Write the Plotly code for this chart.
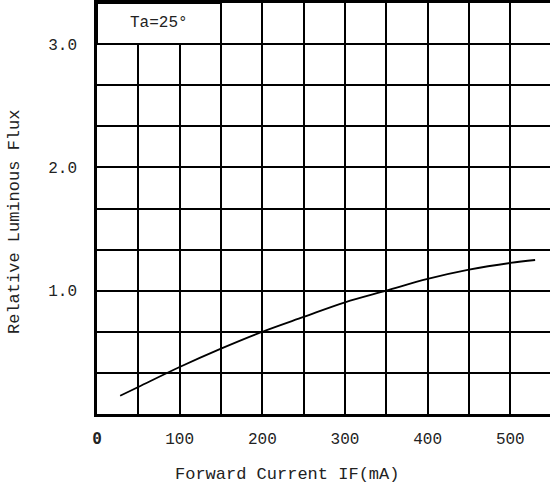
import plotly.graph_objects as go

# Data
current_ma = [28, 50, 100, 150, 200, 250, 300, 350, 400, 450, 500, 530]
rel_flux = [0.148, 0.219, 0.381, 0.530, 0.667, 0.787, 0.905, 1.0, 1.095, 1.17, 1.225, 1.249]

x_tick_vals = [0, 100, 200, 300, 400, 500]
x_tick_text = ['<span style="font-family:DejaVu Sans Mono"><b>0</b></span>', "100", "200", "300", "400", "500"]
y_tick_vals = [1, 2, 3]
y_tick_text = ["1.0", "2.0", "3.0"]

FONT = "Liberation Mono"
TXT = "#222"

fig = go.Figure()
fig.add_trace(go.Scatter(
    x=current_ma, y=rel_flux, mode="lines",
    line=dict(color="black", width=1.8, shape="spline"),
    showlegend=False, hoverinfo="skip",
))

fig.update_layout(
    width=550, height=491,
    margin=dict(l=97, r=0, t=3, b=77),
    paper_bgcolor="white", plot_bgcolor="white",
    font=dict(family=FONT, size=16, color=TXT),
    xaxis=dict(
        range=[0, 548], tickmode="array", tickvals=x_tick_vals, ticktext=x_tick_text,
        showgrid=True, gridcolor="black", gridwidth=2,
        minor=dict(tickmode="linear", tick0=0, dtick=50, showgrid=True,
                   gridcolor="black", gridwidth=2),
        showline=True, linecolor="black", linewidth=2.5, mirror=True,
        zeroline=False, ticks="", ticklabelstandoff=8,
        tickfont=dict(family=FONT, size=16, color=TXT),
        fixedrange=True,
    ),
    yaxis=dict(
        range=[0, 10 / 3], tickmode="array", tickvals=y_tick_vals, ticktext=y_tick_text,
        showgrid=True, gridcolor="black", gridwidth=2,
        minor=dict(tickmode="linear", tick0=0, dtick=1 / 3, showgrid=True,
                   gridcolor="black", gridwidth=2),
        showline=True, linecolor="black", linewidth=2.5, mirror=False,
        zeroline=False, ticks="", ticklabelstandoff=14,
        tickfont=dict(family=FONT, size=16, color=TXT),
        fixedrange=True,
    ),
    shapes=[dict(
        type="rect", xref="x", yref="y", x0=0, x1=150, y0=3, y1=10 / 3,
        fillcolor="white", line=dict(color="black", width=2), layer="above",
    )],
    annotations=[
        dict(text="Ta=25°", x=75, y=3.17, xref="x", yref="y", showarrow=False,
             font=dict(family=FONT, size=16, color=TXT)),
        dict(text="Forward Current IF(mA)", x=(287 - 97) / 453, y=(414 - 474) / 411,
             xref="paper", yref="paper",
             showarrow=False, xanchor="center", yanchor="middle",
             font=dict(family=FONT, size=17, color=TXT)),
        dict(text="Relative Luminous Flux", x=(14 - 97) / 453, y=(414 - 222) / 411,
             xref="paper", yref="paper",
             showarrow=False, textangle=-90, xanchor="center", yanchor="middle",
             font=dict(family=FONT, size=17, color=TXT)),
    ],
)

fig.write_html("out.html", config={"displayModeBar": False},
               post_script="document.body.style.margin='0';")
